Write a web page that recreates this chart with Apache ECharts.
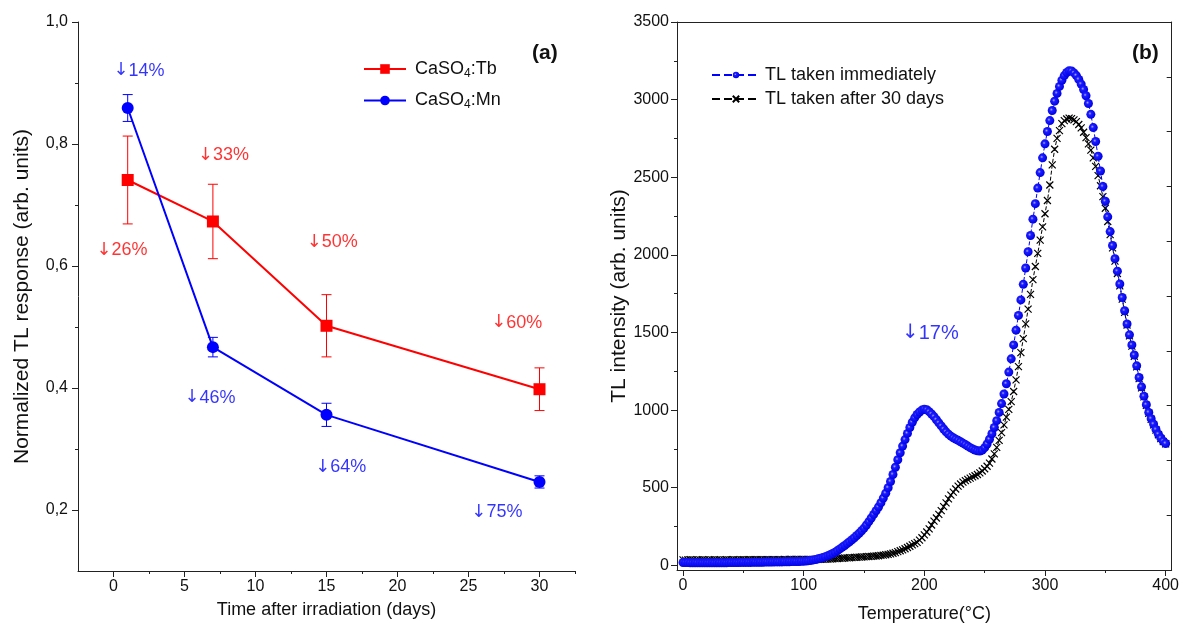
<!DOCTYPE html>
<html><head><meta charset="utf-8">
<script src="https://cdn.jsdelivr.net/npm/echarts@6/dist/echarts.min.js"></script>
<style>html,body{margin:0;padding:0;background:#fff}#c{width:1182px;height:628px}</style>
</head><body><div id="c"></div><script>
// ---------- Panel (a) data ----------
const days = [1, 7, 15, 30];
const tbValues = [0.741, 0.673, 0.502, 0.398];
const tbErrors = [0.072, 0.061, 0.051, 0.035];
const mnValues = [0.859, 0.467, 0.356, 0.246];
const mnErrors = [0.022, 0.016, 0.019, 0.010];
const leftXTicks = [0, 5, 10, 15, 20, 25, 30];
const leftXMinorTicks = [2.5, 7.5, 12.5, 17.5, 22.5, 27.5, 32.5];
const leftYTicks = [0.2, 0.4, 0.6, 0.8, 1.0];
const leftYMinorTicks = [0.3, 0.5, 0.7, 0.9];
const annotTexts = ['14%', '26%', '33%', '50%', '60%', '46%', '64%', '75%'];
const annotX = [1.8, 0.6, 7.75, 15.4, 28.4, 6.8, 16.0, 27.0];
const annotY = [0.920, 0.626, 0.782, 0.639, 0.507, 0.384, 0.270, 0.197];
const annotIsMn = [true, false, false, false, false, true, true, true];

// ---------- Panel (b) data ----------
const temperature = [0,2,4,6,8,10,12,14,16,18,20,22,24,26,28,30,32,34,36,38,40,42,44,46,48,50,52,54,56,58,60,62,64,66,68,70,72,74,76,78,80,82,84,86,88,90,92,94,96,98,100,
102,104,106,108,110,112,114,116,118,120,122,124,126,128,130,132,134,136,138,140,142,144,146,148,150,152,154,156,158,160,162,164,166,168,170,172,174,176,178,180,182,184,186,188,190,192,194,196,198,200,
202,204,206,208,210,212,214,216,218,220,222,224,226,228,230,232,234,236,238,240,242,244,246,248,250,252,254,256,258,260,262,264,266,268,270,272,274,276,278,280,282,284,286,288,290,292,294,296,298,300,
302,304,306,308,310,312,314,316,318,320,322,324,326,328,330,332,334,336,338,340,342,344,346,348,350,352,354,356,358,360,362,364,366,368,370,372,374,376,378,380,382,384,386,388,390,392,394,396,398,400];
const tlImmediate = [18,18,18,17,17,17,17,16,16,16, 16,16,16,16,17,17,17,17,17,18, 18,18,18,18,19,19,19,19,19,20, 20,20,20,20,21,21,21,21,22,22, 22,22,23,23,23,24,24,25,25,26, 27,
28,30,32,35,38,42,46,51,56,62, 68,76,85,95,106,117,128,140,152,165, 178,192,207,223,240,260,282,305,328,352, 376,403,433,465,500,540,585,632,680,725, 768,810,850,888,922,950,972,988,1000,1006,
1002,990,975,958,938,918,898,878,860,845, 832,822,813,805,796,787,778,768,758,750, 743,738,736,742,758,782,812,848,888,932, 985,1042,1104,1170,1245,1330,1420,1515,1610,1710, 1810,1915,2020,2125,2230,2330,2430,2530,2625,2715,
2795,2865,2930,2990,3040,3085,3125,3155,3175,3186, 3185,3172,3155,3130,3100,3065,3025,2975,2905,2820, 2730,2635,2540,2440,2345,2245,2150,2060,1975,1895, 1812,1725,1640,1555,1485,1420,1355,1285,1210,1150, 1090,1035,985,945,910,875,845,820,800,785];
const tlAfter30 = [35,34,35,36,35,34,35,35,36,35, 34,35,35,36,35,35,34,35,36,35, 35,36,35,35,36,36,35,36,36,36, 36,37,36,36,37,37,36,37,37,37, 37,37,38,37,38,38,38,38,38,38, 38,
38,38,38,38,38,38,39,39,40,40, 41,42,43,44,45,46,47,48,49,50, 51,52,53,54,55,56,57,58,59,60, 62,64,66,68,71,74,78,82,88,94, 100,107,115,123,132,140,148,162,178,196,
215,235,260,285,305,328,352,378,402,428, 452,472,492,510,524,536,546,554,562,570, 577,585,596,608,622,638,658,685,718,760, 805,855,905,955,1005,1055,1120,1195,1280,1370, 1460,1555,1650,1745,1840,1925,2010,2095,2180,2265,
2350,2450,2580,2680,2750,2800,2845,2865,2875,2881, 2878,2870,2858,2840,2818,2790,2755,2715,2675,2625, 2570,2510,2445,2375,2300,2215,2130,2045,1960,1880, 1800,1715,1630,1548,1478,1412,1347,1278,1203,1143, 1085,1030,980,940,905,871,841,816,797,782];
const rightXTicks = [0, 100, 200, 300, 400];
const rightXMinorTicks = [50, 150, 250, 350];
const rightYTicks = [0, 500, 1000, 1500, 2000, 2500, 3000, 3500];
const rightYMinorTicks = [250, 750, 1250, 1750, 2250, 2750, 3250];
const rightAnnotText = ['17%'];
const rightAnnotX = [205];
const rightAnnotY = [1495];

// ---------- build ----------
const FONT = '"Liberation Sans", Arial, sans-serif';
const ARROW_FONT = '"DejaVu Sans", sans-serif';
const RED = '#ff0000', BLUE = '#0000ff';

function errData(xs, ys, es) { return xs.map((x, i) => [x, ys[i], ys[i] - es[i], ys[i] + es[i]]); }
function errRender(color) {
  return function (params, api) {
    const x = api.value(0);
    const pLo = api.coord([x, api.value(2)]);
    const pHi = api.coord([x, api.value(3)]);
    const w = 5;
    const st = { stroke: color, lineWidth: 1 };
    return { type: 'group', children: [
      { type: 'line', shape: { x1: pLo[0], y1: pLo[1], x2: pHi[0], y2: pHi[1] }, style: st },
      { type: 'line', shape: { x1: pLo[0] - w, y1: pLo[1], x2: pLo[0] + w, y2: pLo[1] }, style: st },
      { type: 'line', shape: { x1: pHi[0] - w, y1: pHi[1], x2: pHi[0] + w, y2: pHi[1] }, style: st }
    ]};
  };
}
function arrowLabel(color, size) {
  return { color: color, fontSize: size, fontFamily: FONT,
    rich: { a: { color: color, fontSize: size, fontFamily: ARROW_FONT },
            t: { color: color, fontSize: size, fontFamily: FONT } } };
}
const commaFmt = v => v.toFixed(1).replace('.', ',');
const plainFmt = v => String(v);
const axisLineStyle = { show: true, onZero: false, lineStyle: { color: '#222', width: 1 } };
const labelStyle = { color: '#111', fontSize: 16, fontFamily: FONT };

function mainAxis(o) {
  return Object.assign({
    type: 'value', splitLine: { show: false }, axisLine: axisLineStyle,
    nameLocation: 'middle', nameTextStyle: { color: '#111', fontFamily: FONT }
  }, o);
}
function minorAxis(o, vals) {
  return Object.assign({
    type: 'value', splitLine: { show: false }, axisLine: { show: false, onZero: false },
    axisLabel: { show: false },
    axisTick: { show: true, customValues: vals, length: 3, lineStyle: { color: '#222' } }
  }, o);
}

const chart = echarts.init(document.getElementById('c'), null, { renderer: 'canvas' });
const option = {
  animation: false,
  backgroundColor: '#fff',
  textStyle: { fontFamily: FONT },
  grid: [
    { left: 78, top: 22, width: 497, height: 549 },
    { left: 677, top: 22, width: 498, height: 548 }
  ],
  xAxis: [
    mainAxis({ gridIndex: 0, min: -2.5, max: 32.5, position: 'bottom',
      name: 'Time after irradiation (days)', nameGap: 30, nameTextStyle: { fontSize: 18, color: '#111', fontFamily: FONT },
      axisLabel: Object.assign({ customValues: leftXTicks, margin: 8 }, labelStyle),
      axisTick: { show: true, customValues: leftXTicks, length: 6, lineStyle: { color: '#222' } } }),
    minorAxis({ gridIndex: 0, min: -2.5, max: 32.5, position: 'bottom' }, leftXMinorTicks),
    mainAxis({ gridIndex: 1, min: -5, max: 405, position: 'bottom',
      name: 'Temperature(°C)', nameGap: 35, nameTextStyle: { fontSize: 18, color: '#111', fontFamily: FONT },
      axisLabel: Object.assign({ customValues: rightXTicks, margin: 8, formatter: plainFmt }, labelStyle),
      axisTick: { show: true, customValues: rightXTicks, length: 6, lineStyle: { color: '#222' } } }),
    minorAxis({ gridIndex: 1, min: -5, max: 405, position: 'bottom' }, rightXMinorTicks),
    { type: 'value', gridIndex: 1, min: -5, max: 405, position: 'top', splitLine: { show: false },
      axisLine: axisLineStyle, axisTick: { show: false }, axisLabel: { show: false } }
  ],
  yAxis: [
    mainAxis({ gridIndex: 0, min: 0.1, max: 1.0, position: 'left',
      name: 'Normalized TL response (arb. units)', nameGap: 45, nameTextStyle: { fontSize: 21, color: '#111', fontFamily: FONT },
      axisLabel: Object.assign({ customValues: leftYTicks, formatter: commaFmt, margin: 10 }, labelStyle),
      axisTick: { show: true, customValues: leftYTicks, length: 6, lineStyle: { color: '#222' } } }),
    minorAxis({ gridIndex: 0, min: 0.1, max: 1.0, position: 'left' }, leftYMinorTicks),
    mainAxis({ gridIndex: 1, min: -30, max: 3500, position: 'left',
      name: 'TL intensity (arb. units)', nameGap: 46, nameTextStyle: { fontSize: 21, color: '#111', fontFamily: FONT },
      axisLabel: Object.assign({ customValues: rightYTicks, margin: 8, formatter: plainFmt }, labelStyle),
      axisTick: { show: true, customValues: rightYTicks, length: 6, lineStyle: { color: '#222' } } }),
    minorAxis({ gridIndex: 1, min: -30, max: 3500, position: 'left' }, rightYMinorTicks),
    { type: 'value', gridIndex: 1, min: 0, max: 10, interval: 1, position: 'right', splitLine: { show: false },
      axisLine: axisLineStyle, axisLabel: { show: false },
      axisTick: { show: true, inside: true, length: 5, lineStyle: { color: '#222' } } }
  ],
  legend: [
    { left: 358, top: 55, orient: 'vertical', itemWidth: 42, itemHeight: 12, itemGap: 12,
      data: ['CaSO4:Tb', 'CaSO4:Mn'],
      formatter: n => n.replace('SO4', 'SO{sub|4}'),
      textStyle: { fontSize: 18, color: '#111', fontFamily: FONT, padding: [0, 0, 0, 4],
        rich: { sub: { fontSize: 12, fontFamily: FONT, color: '#111', padding: [9, 0, 0, 0] } } } },
    { left: 706, top: 61, orient: 'vertical', itemWidth: 48, itemHeight: 8, itemGap: 6,
      data: ['TL taken immediately', 'TL taken after 30 days'],
      textStyle: { fontSize: 18, color: '#111', fontFamily: FONT } }
  ],
  graphic: [
    { type: 'text', left: 532, top: 43, style: { text: '(a)', font: 'bold 21px ' + FONT, fill: '#111' } },
    { type: 'text', left: 1132, top: 43, style: { text: '(b)', font: 'bold 21px ' + FONT, fill: '#111' } }
  ],
  series: [
    { type: 'custom', name: 'errTb', xAxisIndex: 0, yAxisIndex: 0, renderItem: errRender(RED),
      data: errData(days, tbValues, tbErrors), z: 1, silent: true },
    { type: 'custom', name: 'errMn', xAxisIndex: 0, yAxisIndex: 0, renderItem: errRender(BLUE),
      data: errData(days, mnValues, mnErrors), z: 1, silent: true },
    { type: 'line', name: 'CaSO4:Tb', xAxisIndex: 0, yAxisIndex: 0, z: 3,
      data: days.map((d, i) => [d, tbValues[i]]),
      symbol: 'rect', symbolSize: 12, itemStyle: { color: RED }, lineStyle: { color: RED, width: 2 } },
    { type: 'line', name: 'CaSO4:Mn', xAxisIndex: 0, yAxisIndex: 0, z: 3,
      data: days.map((d, i) => [d, mnValues[i]]),
      symbol: 'circle', symbolSize: 12, itemStyle: { color: BLUE }, lineStyle: { color: BLUE, width: 2 } },
    { type: 'scatter', name: 'annotA', xAxisIndex: 0, yAxisIndex: 0, symbolSize: 1, z: 4, silent: true,
      itemStyle: { color: 'rgba(0,0,0,0)' },
      data: annotTexts.map((t, i) => ({ value: [annotX[i], annotY[i]], name: t,
        label: arrowLabel(annotIsMn[i] ? BLUE : RED, 18) })),
      label: { show: true, position: 'inside', formatter: p => '{a|↓}{t|' + p.name + '}' } },
    { type: 'line', name: 'TL taken after 30 days', xAxisIndex: 2, yAxisIndex: 2, z: 2,
      data: temperature.map((t, i) => [t, tlAfter30[i]]),
      symbol: 'path://M0,0L10,10M10,0L0,10', symbolSize: 7,
      itemStyle: { color: '#000', borderColor: '#000', borderWidth: 1.2 },
      lineStyle: { color: '#000', width: 1, type: 'dashed' } },
    { type: 'line', name: 'TL taken immediately', xAxisIndex: 2, yAxisIndex: 2, z: 3,
      data: temperature.map((t, i) => [t, tlImmediate[i]]),
      symbol: 'circle', symbolSize: 9,
      itemStyle: { color: { type: 'radial', x: 0.4, y: 0.4, r: 0.6, colorStops: [
        { offset: 0, color: '#a8a8ff' }, { offset: 0.3, color: '#1c1cff' }, { offset: 1, color: '#0000e6' } ] } },
      lineStyle: { color: BLUE, width: 1, type: 'dashed' } },
    { type: 'scatter', name: 'annotB', xAxisIndex: 2, yAxisIndex: 2, symbolSize: 1, z: 4, silent: true,
      itemStyle: { color: 'rgba(0,0,0,0)' },
      data: rightAnnotText.map((t, i) => ({ value: [rightAnnotX[i], rightAnnotY[i]], name: t,
        label: arrowLabel(BLUE, 20) })),
      label: { show: true, position: 'inside', formatter: p => '{a|↓}{t|' + p.name + '}' } }
  ]
};
chart.setOption(option);
</script></body></html>
